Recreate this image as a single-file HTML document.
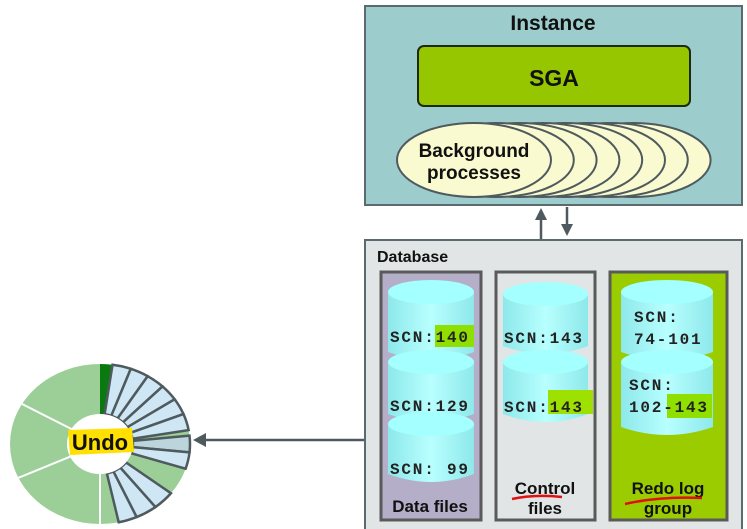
<!DOCTYPE html>
<html><head><meta charset="utf-8"><style>
body{margin:0;background:#fff;width:747px;height:529px;overflow:hidden}
svg{display:block}
text{font-family:"Liberation Sans",sans-serif;font-weight:bold}
.m{font-family:"Liberation Mono",monospace;font-weight:bold;font-size:16px;letter-spacing:1.8px;fill:#222}
</style></head><body>
<svg id="s" width="747" height="529" viewBox="0 0 747 529">
<defs>
<linearGradient id="cy" x1="0" x2="1"><stop offset="0" stop-color="#8ee8ea"/><stop offset="0.5" stop-color="#b8ffff"/><stop offset="1" stop-color="#8ee8ea"/></linearGradient>
</defs>
<rect x="365" y="6" width="377" height="199" fill="#9ccccc" stroke="#5a6a6e" stroke-width="2"/>
<text x="553" y="30" font-size="21" text-anchor="middle" fill="#111">Instance</text>
<rect x="418" y="46" width="272" height="60" rx="6" fill="#95c600" stroke="#1c2a10" stroke-width="2"/>
<text x="554" y="86" font-size="23" text-anchor="middle" fill="#111">SGA</text>
<g id="ells" fill="#fafad0" stroke="#4e5a5e" stroke-width="2"></g>
<text x="474" y="157" font-size="19" text-anchor="middle" fill="#111">Background</text>
<text x="474" y="179" font-size="19" text-anchor="middle" fill="#111">processes</text>
<g stroke="#4e5a5e" stroke-width="2.5" fill="#4e5a5e">
<line x1="541" y1="240" x2="541" y2="218"/><polygon points="535,220 547,220 541,208" stroke="none"/>
<line x1="567" y1="207" x2="567" y2="226"/><polygon points="561,224 573,224 567,236" stroke="none"/>
<line x1="365" y1="440" x2="205" y2="440"/><polygon points="206,433 206,447 193,440" stroke="none"/>
</g>
<rect x="365" y="240" width="377" height="295" fill="#e1e5e5" stroke="#5a6a6e" stroke-width="2"/>
<text x="377" y="262" font-size="16" fill="#111">Database</text>
<rect x="381" y="272" width="100" height="248" fill="#b4aec8" stroke="#5a5a5a" stroke-width="3"/>
<rect x="496" y="272" width="99" height="248" fill="#e1e5e5" stroke="#5a5a5a" stroke-width="3"/>
<rect x="610" y="272" width="117" height="248" fill="#9acc00" stroke="#5a5a5a" stroke-width="3"/>
<g id="cyl"></g>
<rect x="435" y="325" width="39" height="22" fill="#8fe000"/>
<rect x="548" y="390" width="45" height="24" fill="#9ee000"/>
<rect x="667" y="394" width="45" height="24" fill="#8fe000"/>
<text class="m" x="390" y="342">SCN:140</text>
<text class="m" x="390" y="411">SCN:129</text>
<text class="m" x="390" y="474">SCN: 99</text>
<text class="m" x="504" y="343">SCN:143</text>
<text class="m" x="504" y="412">SCN:143</text>
<text class="m" x="634" y="322">SCN:</text>
<text class="m" x="634" y="344">74-101</text>
<text class="m" x="629" y="390">SCN:</text>
<text class="m" x="629" y="412">102-143</text>
<text x="430" y="512" font-size="17" text-anchor="middle" fill="#111">Data files</text>
<text x="545" y="494" font-size="17" text-anchor="middle" fill="#111">Control</text>
<text x="545" y="514" font-size="17" text-anchor="middle" fill="#111">files</text>
<text x="668" y="494" font-size="17" text-anchor="middle" fill="#111">Redo log</text>
<text x="668" y="514" font-size="17" text-anchor="middle" fill="#111">group</text>
<path d="M512 499 Q535 494 562 497" stroke="#e01010" stroke-width="2.5" fill="none"/>
<path d="M625 504 Q660 496 702 498" stroke="#e01010" stroke-width="2.5" fill="none"/>
<g id="donut"></g>
<path d="M68 430 L132 428 L134 452 L70 455 Z" fill="#ffe000"/>
<text x="100" y="450" font-size="22" text-anchor="middle" fill="#111">Undo</text>
</svg>
<script>
var NS="http://www.w3.org/2000/svg";
function el(p,t,a){var e=document.createElementNS(NS,t);for(var k in a)e.setAttribute(k,a[k]);p.appendChild(e);return e;}
var g=document.getElementById("ells");
for(var i=7;i>=0;i--){el(g,"ellipse",{cx:474+i*22.8,cy:160,rx:77,ry:37});}
var c=document.getElementById("cyl");
function cyl(x,y,w,h){el(c,"path",{d:"M"+x+" "+(y+10)+" L"+x+" "+(y+h)+" Q"+(x+w/2)+" "+(y+h+16)+" "+(x+w)+" "+(y+h)+" L"+(x+w)+" "+(y+10)+" Z",fill:"url(#cy)"});
el(c,"ellipse",{cx:x+w/2,cy:y+10,rx:w/2,ry:12,fill:"#a4ffff"});}
cyl(388,282,86,70);cyl(388,352,86,62);cyl(388,414,86,60);
cyl(503,284,85,62);cyl(503,352,85,62);
cyl(621,282,92,70);cyl(621,352,92,75);
var d=document.getElementById("donut"),cx=100,cy=444,R=90,Ry=80,r=33,ry=30;
function pt(a,rx,ry2){var t=a*Math.PI/180;return [cx+rx*Math.sin(t),cy-ry2*Math.cos(t)];}
function wedge(a1,a2,fill,stroke,sw){var p1=pt(a1,R,Ry),p2=pt(a2,R,Ry),p3=pt(a2,r,ry),p4=pt(a1,r,ry);
el(d,"path",{d:"M"+p1+" A"+R+" "+Ry+" 0 0 1 "+p2+" L"+p3+" A"+r+" "+ry+" 0 0 0 "+p4+" Z",fill:fill,stroke:stroke,"stroke-width":sw});}
el(d,"ellipse",{cx:cx,cy:cy,rx:R,ry:Ry,fill:"#9ccf98"});
[[-115],[-60],[180]].forEach(function(a){var p=pt(a[0],R,Ry),q=pt(a[0],r,ry);el(d,"line",{x1:p[0],y1:p[1],x2:q[0],y2:q[1],stroke:"#fff","stroke-width":2});});
wedge(0,8,"#0a7a10","none",0);
var bl=[[8,20],[20,32],[32,44],[44,56],[56,68],[68,80],[84,96],[96,108],[128,142],[142,156],[156,168]];
bl.forEach(function(a,i){wedge(a[0],a[1],i==6?"#bcd4dc":"#cfe6f4","#4e5a5e",2.5);});
el(d,"ellipse",{cx:cx,cy:cy,rx:r,ry:ry,fill:"#fff"});
</script>
</body></html>
